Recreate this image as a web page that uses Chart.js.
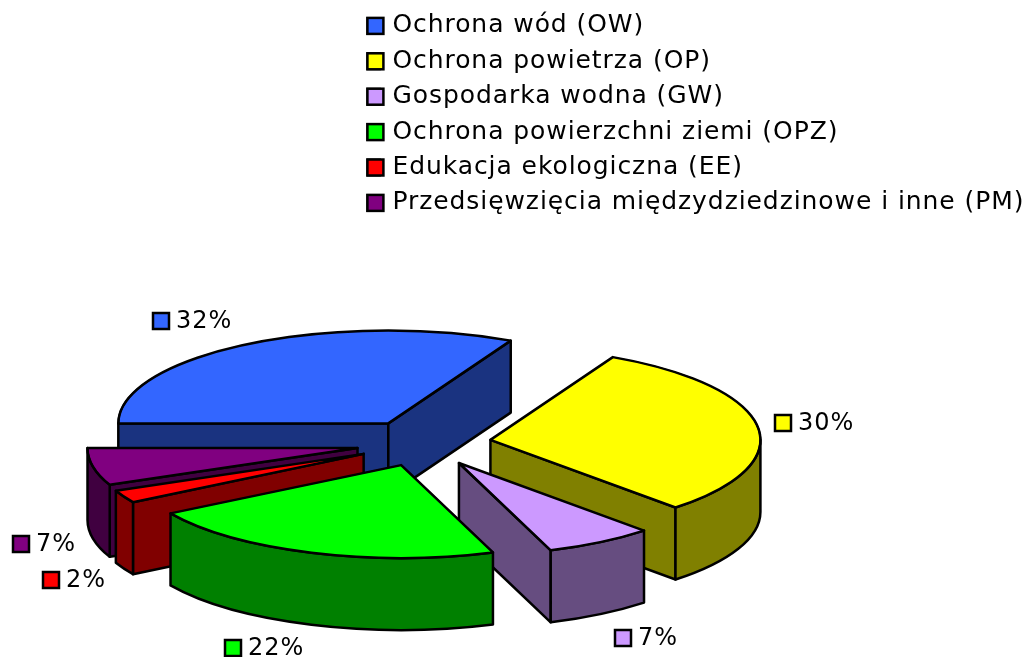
<!DOCTYPE html>
<html lang="pl">
<head>
  <meta charset="UTF-8" />
  <title>Struktura nakładów</title>
  <script src="https://cdn.jsdelivr.net/npm/chart.js"></script>
  <style>
    html, body { margin: 0; background: #fff; }
    canvas { display: block; }
  </style>
</head>
<body>
<canvas id="chartCanvas" width="1026" height="657"></canvas>

<script>
const categories = [
  'Ochrona wód (OW)',
  'Ochrona powietrza (OP)',
  'Gospodarka wodna (GW)',
  'Ochrona powierzchni ziemi (OPZ)',
  'Edukacja ekologiczna (EE)',
  'Przedsięwzięcia międzydziedzinowe i inne (PM)'
];
// they round to the printed percentages
const shares = [32.49, 30.49, 6.5, 21.82, 2.2, 6.5];
const topColors = ['#3366ff', '#ffff00', '#cc99ff', '#00ff00', '#ff0000', '#800080'];
const sideColors = ['#1a3380', '#808000', '#664d80', '#008000', '#800000', '#400040'];
// back to front, so nearer slices cover the farther ones
const drawOrder = [0, 1, 2, 5, 4, 3];
// top left corner of the key square next to each percent label
const labelSpots = [[153, 313], [775, 415], [615, 630], [225, 640], [43, 572], [13, 536]];

const fontName = '"DejaVu Sans", Verdana, sans-serif';
const pieX = 423.6;
const pieY = 443.2;
const tilt = 0.344;
const depth = 72;
const explode = 0.25;
const legendSpacing = '0.93px';

const pie3d = {
  id: 'pie3d',
  beforeLayout(chart) {
    chart.ctx.letterSpacing = legendSpacing;
  },
  beforeDraw(chart) {
    chart.ctx.letterSpacing = legendSpacing;
  },
  beforeDatasetsDraw(chart) {
    const ctx = chart.ctx;
    const arcs = chart.getDatasetMeta(0).data;
    ctx.save();
    ctx.lineWidth = 2.5;
    ctx.lineJoin = 'round';
    ctx.strokeStyle = '#000';

    drawOrder.forEach(i => {
      const arc = arcs[i];
      const r = arc.outerRadius;
      const a0 = arc.startAngle;
      const a1 = arc.endAngle;
      const mid = (a0 + a1) / 2;
      const cx = pieX + Math.cos(mid) * r * explode;
      const cy = pieY + Math.sin(mid) * r * explode * tilt;

      const paint = (color, path) => {
        ctx.beginPath();
        path();
        ctx.closePath();
        ctx.fillStyle = color;
        ctx.fill();
        ctx.stroke();
      };

      // flat cut faces, only the ones turned to the viewer
      [a0, a1].forEach(a => {
        const dx = Math.cos(a);
        const dy = Math.sin(a) * tilt;
        const side = dx * (Math.sin(mid) * tilt) - dy * Math.cos(mid);
        if (dx * side >= 0) return;
        paint(sideColors[i], () => {
          ctx.moveTo(cx, cy);
          ctx.lineTo(cx + dx * r, cy + dy * r);
          ctx.lineTo(cx + dx * r, cy + dy * r + depth);
          ctx.lineTo(cx, cy + depth);
        });
      });

      // outer curved wall, front half of the ellipse only
      [[Math.max(a0, 0), Math.min(a1, Math.PI)],
       [Math.max(a0, 2 * Math.PI), Math.min(a1, 3 * Math.PI)]].forEach(([s, e]) => {
        if (e <= s) return;
        paint(sideColors[i], () => {
          ctx.ellipse(cx, cy, r, r * tilt, 0, s, e);
          ctx.ellipse(cx, cy + depth, r, r * tilt, 0, e, s, true);
        });
      });

      // top face comes from the library's own arc, squashed into the tilted plane
      ctx.save();
      ctx.translate(cx, cy);
      ctx.scale(1, tilt);
      ctx.translate(-arc.x, -arc.y);
      arc.draw(ctx);
      ctx.restore();

      ctx.beginPath();
      ctx.moveTo(cx, cy);
      ctx.ellipse(cx, cy, r, r * tilt, 0, a0, a1);
      ctx.closePath();
      ctx.stroke();
    });
    ctx.restore();
    return false;
  },
  afterDraw(chart) {
    const ctx = chart.ctx;
    const key = (x, y, color) => {
      ctx.fillStyle = color;
      ctx.strokeStyle = '#000';
      ctx.lineWidth = 2.5;
      ctx.fillRect(x, y, 16, 16);
      ctx.strokeRect(x, y, 16, 16);
    };
    ctx.save();
    // legend squares are wider than Chart.js allows with this text gap
    chart.legend.legendHitBoxes.forEach((box, i) => key(box.left, box.top + (box.height - 16) / 2, topColors[i]));

    ctx.letterSpacing = '1px';
    ctx.font = '24px ' + fontName;
    ctx.textBaseline = 'middle';
    shares.forEach((v, i) => {
      const [x, y] = labelSpots[i];
      key(x, y, topColors[i]);
      ctx.fillStyle = '#000';
      ctx.fillText(Math.round(v) + '%', x + 23, y + 9);
    });
    ctx.restore();
  }
};

new Chart(document.getElementById('chartCanvas'), {
  type: 'pie',
  data: {
    labels: categories,
    datasets: [{
      data: shares,
      backgroundColor: topColors,
      borderColor: '#000',
      borderWidth: 2
    }]
  },
  options: {
    responsive: false,
    animation: false,
    rotation: -90,
    radius: 270,
    layout: { padding: { top: 3, right: -8.4 } },
    plugins: {
      tooltip: { enabled: false },
      legend: {
        position: 'right',
        align: 'start',
        maxWidth: 720,
        labels: {
          color: '#000',
          boxWidth: 12.5,
          boxHeight: 16,
          padding: 10.4,
          font: { family: fontName, size: 25 }
        }
      }
    }
  },
  plugins: [pie3d]
});
</script>
</body>
</html>
